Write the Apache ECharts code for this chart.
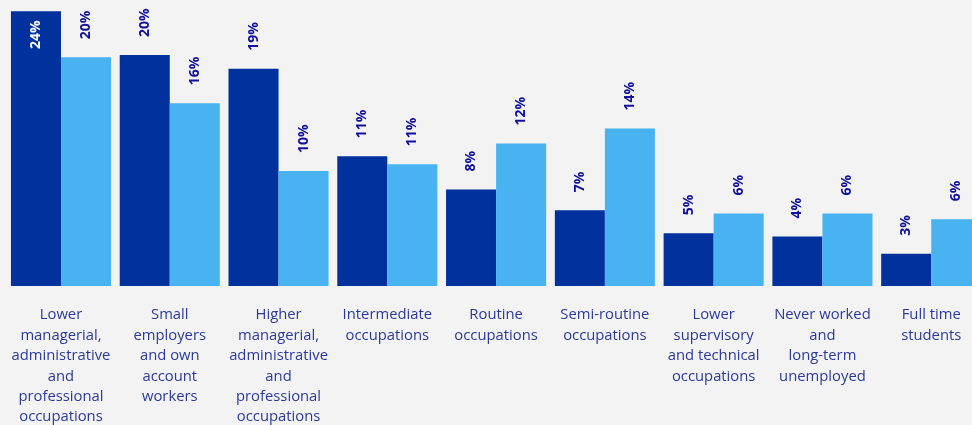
<!DOCTYPE html>
<html>
<head>
<meta charset="utf-8">
<script src="https://cdn.jsdelivr.net/npm/echarts@6/dist/echarts.min.js"></script>
<style>
  html, body { margin: 0; padding: 0; background: #f3f3f3; }
  #chart { width: 972px; height: 425px; }
</style>
</head>
<body>
<div id="chart"></div>
<script>
// Occupation groups (line breaks as shown under the axis)
const categories = [
  'Lower\nmanagerial,\nadministrative\nand\nprofessional\noccupations',
  'Small\nemployers\nand own\naccount\nworkers',
  'Higher\nmanagerial,\nadministrative\nand\nprofessional\noccupations',
  'Intermediate\noccupations',
  'Routine\noccupations',
  'Semi-routine\noccupations',
  'Lower\nsupervisory\nand technical\noccupations',
  'Never worked\nand\nlong-term\nunemployed',
  'Full time\nstudents'
];

// Share of each group, in percent
const seriesA = [23.9, 20.1, 18.9, 11.3, 8.4, 6.6, 4.6, 4.3, 2.8];
const seriesB = [19.9, 15.9, 10.0, 10.6, 12.4, 13.7, 6.3, 6.3, 5.8];

const darkBlue = '#00319d';
const lightBlue = '#49b3f1';
const labelBlue = '#10109e';

const pct = p => Math.round(p.value) + '%';

const topLabel = {
  show: true,
  position: 'top',
  rotate: 90,
  align: 'left',
  verticalAlign: 'middle',
  distance: 18,
  color: labelBlue,
  fontFamily: 'Open Sans',
  fontWeight: 'bold',
  fontSize: 14,
  formatter: pct
};

// The tallest bar carries its label inside, in white
const dataA = seriesA.map((v, i) => i === 0 ? {
  value: v,
  label: { position: 'insideTop', align: 'right', distance: 9, color: '#ffffff' }
} : v);

const chart = echarts.init(document.getElementById('chart'));
chart.setOption({
  backgroundColor: '#f3f3f3',
  animation: false,
  grid: {
    left: 6.6, top: 1, width: 979, bottom: 139,
    containLabel: false,
    outerBoundsMode: 'none'
  },
  xAxis: {
    type: 'category',
    data: categories,
    axisLine: { show: false },
    axisTick: { show: false },
    axisLabel: {
      interval: 0,
      margin: 19,
      fontFamily: 'Open Sans',
      fontSize: 14.8,
      lineHeight: 20.4,
      color: '#2a3a9c',
      verticalAlign: 'top'
    }
  },
  yAxis: {
    type: 'value',
    min: 0,
    max: 24.8,
    show: false
  },
  series: [
    {
      type: 'bar',
      data: dataA,
      itemStyle: { color: darkBlue },
      barGap: '0%',
      barCategoryGap: '8%',
      label: topLabel
    },
    {
      type: 'bar',
      data: seriesB,
      itemStyle: { color: lightBlue },
      barGap: '0%',
      barCategoryGap: '8%',
      label: topLabel
    }
  ]
});
</script>
</body>
</html>
